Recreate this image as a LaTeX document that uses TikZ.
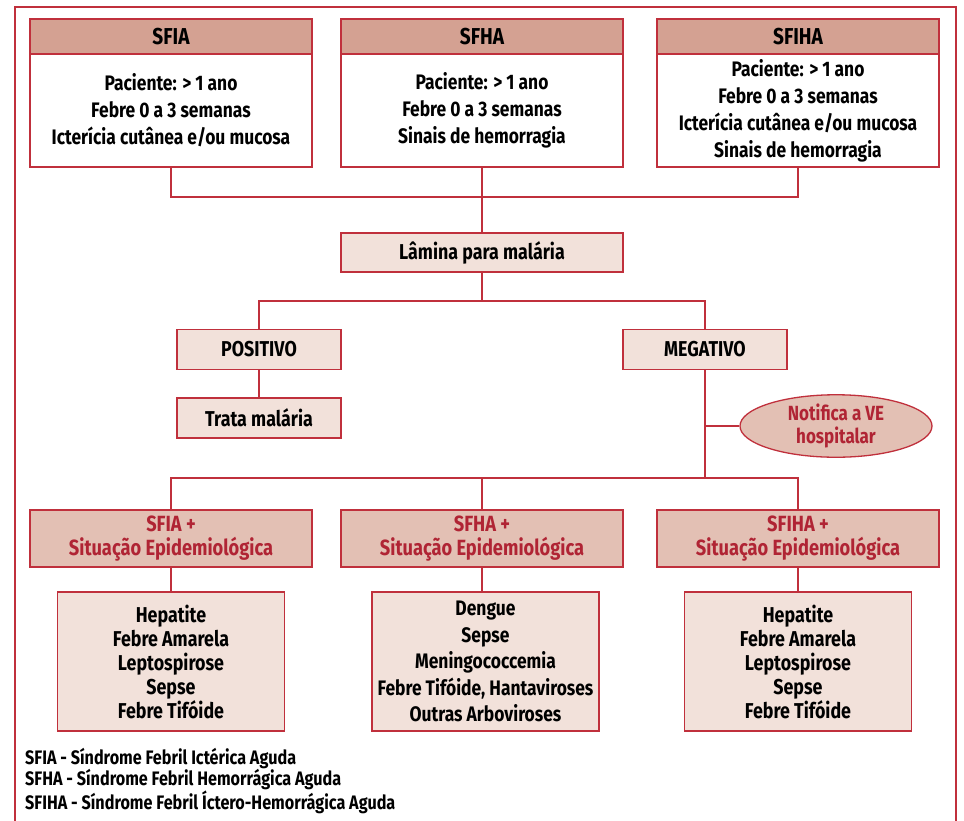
\documentclass[tikz,border=0pt]{standalone}
\usepackage{fontspec}
\setmainfont{Fira Sans}[FakeStretch=0.83]
\usetikzlibrary{shapes.geometric}
\definecolor{linec}{RGB}{192,48,60}
\definecolor{hdrfill}{RGB}{212,161,146}
\definecolor{lightfill}{RGB}{242,225,218}
\definecolor{midfill}{RGB}{227,192,180}
\definecolor{redtext}{RGB}{176,36,52}
\tikzset{
  x=1pt, y=-1pt,
  conn/.style={draw=linec, line width=1.3pt},
  topbox/.style={draw=linec, line width=1.3pt, fill=white, minimum width=282pt, minimum height=113pt, align=center, font=\bfseries\fontsize{21}{27}\selectfont, inner sep=0pt},
  tophdr/.style={draw=linec, line width=1.3pt, fill=hdrfill, minimum width=282pt, minimum height=35pt, align=center, font=\bfseries\fontsize{23}{24}\selectfont, inner sep=0pt},
  midbox/.style={draw=linec, line width=1.3pt, fill=lightfill, align=center, font=\bfseries\fontsize{21.5}{22}\selectfont, inner sep=0pt},
  grphdr/.style={draw=linec, line width=1.3pt, fill=midfill, minimum width=282pt, minimum height=57pt, align=center, text=redtext, font=\bfseries\fontsize{22}{23.5}\selectfont, inner sep=0pt},
  listbox/.style={draw=linec, line width=1.3pt, fill=lightfill, minimum width=227pt, minimum height=139pt, align=center, font=\bfseries\fontsize{21.5}{24}\selectfont, inner sep=0pt},
  legend/.style={anchor=west, font=\bfseries\fontsize{19.5}{21}\selectfont, inner sep=0pt, align=left},
}
\begin{document}
\begin{tikzpicture}
\useasboundingbox (0,0) rectangle (964,820);
\draw[linec, line width=2pt] (15,7) rectangle (956,845);

% top boxes
\node[topbox] (b1) at (171,110.5) {Paciente: > 1 ano\\Febre 0 a 3 semanas\\Icterícia cutânea e/ou mucosa};
\node[tophdr] (h1) at (171,36.5) {SFIA};
\node[topbox] (b2) at (482,110.5) {Paciente: > 1 ano\\Febre 0 a 3 semanas\\Sinais de hemorragia};
\node[tophdr] (h2) at (482,36.5) {SFHA};
\node[topbox] (b3) at (798,110.5) {Paciente: > 1 ano\\Febre 0 a 3 semanas\\Icterícia cutânea e/ou mucosa\\Sinais de hemorragia};
\node[tophdr] (h3) at (798,36.5) {SFIHA};

% lamina
\node[midbox, minimum width=282pt, minimum height=39pt] (lam) at (482,252.5) {Lâmina para malária};
\coordinate (j1) at (482,197);
\draw[conn] (b1.south) |- (j1) -| (b3.south);
\draw[conn] (b2.south) -- (lam.north);

% positivo / negativo
\node[midbox, minimum width=164pt, minimum height=40pt] (pos) at (259,349.5) {POSITIVO};
\node[midbox, minimum width=164pt, minimum height=40pt] (neg) at (705,349.5) {MEGATIVO};
\node[midbox, minimum width=164pt, minimum height=40pt] (tra) at (259,418) {Trata malária};
\coordinate (j2) at (482,301);
\draw[conn] (lam.south) -- (j2);
\draw[conn] (pos.north) |- (j2) -| (neg.north);
\draw[conn] (pos.south) -- (tra.north);

% ellipse
\node[ellipse, draw=linec, line width=1.3pt, fill=midfill, minimum width=192pt, minimum height=60pt, inner sep=0pt, align=center, text=redtext, font=\bfseries\fontsize{20.5}{23}\selectfont] (ell) at (836,426) {Notifica a VE\\hospitalar};
\coordinate (j3) at (705,478);
\draw[conn] (neg.south) -- (j3);
\draw[conn] (neg.south |- ell.west) -- (ell.west);

% groups
\node[grphdr] (g1) at (171,538.5) {SFIA +\\Situação Epidemiológica};
\node[grphdr] (g2) at (482,538.5) {SFHA +\\Situação Epidemiológica};
\node[grphdr] (g3) at (798,538.5) {SFIHA +\\Situação Epidemiológica};
\coordinate (j4) at (482,478);
\draw[conn] (g1.north) |- (j4) -| (g3.north);
\draw[conn] (j4) -- (g2.north);

\node[listbox] (l1) at (171,661.5) {Hepatite\\Febre Amarela\\Leptospirose\\Sepse\\Febre Tifóide};
\node[listbox, font=\bfseries\fontsize{21}{26.5}\selectfont] (l2) at (485.5,661.5) {Dengue\\Sepse\\Meningococcemia\\Febre Tifóide, Hantaviroses\\Outras Arboviroses};
\node[listbox] (l3) at (798,661.5) {Hepatite\\Febre Amarela\\Leptospirose\\Sepse\\Febre Tifóide};
\draw[conn] (g1.south) -- (l1.north -| g1.south);
\draw[conn] (g2.south) -- (l2.north -| g2.south);
\draw[conn] (g3.south) -- (l3.north -| g3.south);

% legend
\node[legend] (leg) at (25,781) {SFIA - Síndrome Febril Ictérica Aguda\\SFHA - Síndrome Febril Hemorrágica Aguda\\SFIHA - Síndrome Febril Íctero-Hemorrágica Aguda};
\end{tikzpicture}
\end{document}
